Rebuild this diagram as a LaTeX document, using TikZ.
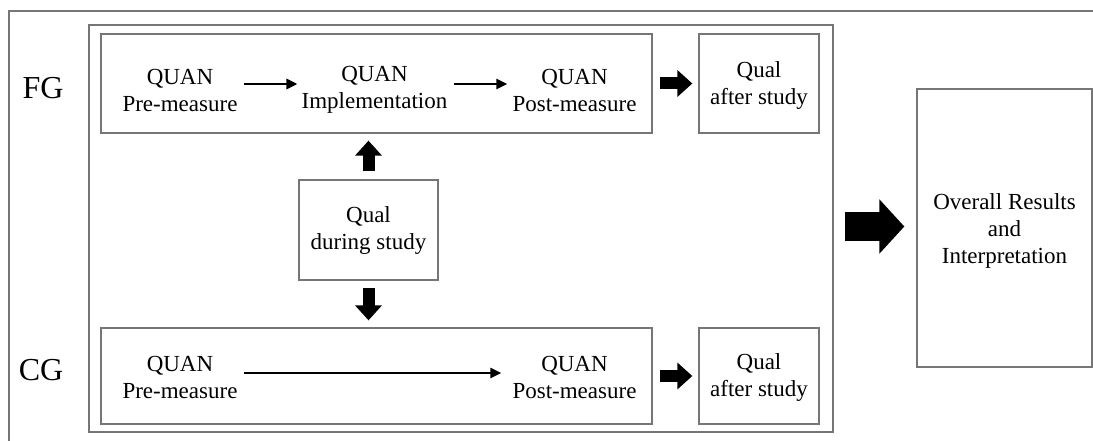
\documentclass[tikz,border=0pt]{standalone}
\usepackage{fontspec}
\setmainfont{Liberation Serif}
\usetikzlibrary{arrows.meta}
\definecolor{framegray}{RGB}{118,118,118}
\tikzset{
  frame/.style={draw=framegray, line width=1.3pt, rectangle, inner sep=0pt},
  txt/.style={align=center, inner sep=0pt, font=\fontsize{23}{27}\selectfont},
  lbl/.style={inner sep=0pt, font=\fontsize{32}{36}\selectfont},
  thinarrow/.style={line width=2.6pt, -{Triangle[length=11pt,width=10pt]}},
  blockarrow/.style={line width=12pt, -{Triangle[length=15pt,width=26pt]}},
  bigblock/.style={line width=29pt, -{Triangle[length=25pt,width=53pt]}}
}
\begin{document}
\begin{tikzpicture}[x=1pt,y=-1pt]
\useasboundingbox (0,0) rectangle (1093,441);
% outer frame (cropped at right and bottom)
\draw[draw=framegray, line width=1.3pt] (9,445) -- (9,11) -- (1097,11);
% boxes
\node[frame, minimum width=744pt, minimum height=407pt] (inner) at (461,228.5) {};
\node[frame, minimum width=551pt, minimum height=99pt] (fg) at (376.5,83.5) {};
\node[frame, minimum width=120pt, minimum height=99pt] (qa1) at (759,83.5) {};
\node[frame, minimum width=551pt, minimum height=96pt] (cg) at (376.5,376) {};
\node[frame, minimum width=120pt, minimum height=96pt] (qa2) at (759,376) {};
\node[frame, minimum width=139pt, minimum height=100pt] (qd) at (368.5,230) {};
\node[frame, minimum width=175pt, minimum height=278pt] (res) at (1004.5,228) {};
% texts
\node[lbl] (fgl) at (43,88) {FG};
\node[lbl] (cgl) at (41,370) {CG};
\node[txt] (pre1) at (180,90) {QUAN\\Pre-measure};
\node[txt] (impl) at (374.5,90) {QUAN\\Implementation};
\node[txt] (post1) at (574.5,90) {QUAN\\Post-measure};
\node[txt] (qa1t) at (759,86) {Qual\\after study};
\node[txt] (pre2) at (180,377) {QUAN\\Pre-measure};
\node[txt] (post2) at (574.5,377) {QUAN\\Post-measure};
\node[txt] (qa2t) at (759,378) {Qual\\after study};
\node[txt] (qdt) at (368.5,231) {Qual\\during study};
\node[txt] (rest) at (1004.5,231) {Overall Results\\and\\Interpretation};
% thin arrows
\draw[thinarrow] ([xshift=6pt,yshift=6pt]pre1.east) -- ([xshift=-4pt,yshift=6pt]impl.west);
\draw[thinarrow] ([xshift=6pt,yshift=6pt]impl.east) -- ([xshift=-5pt,yshift=6pt]post1.west);
\draw[thinarrow] ([xshift=6pt,yshift=4pt]pre2.east) -- ([xshift=-11pt,yshift=4pt]post2.west);
% block arrows
\draw[blockarrow, shorten <=7pt, shorten >=6pt] (fg.east) -- (qa1.west);
\draw[blockarrow, shorten <=7pt, shorten >=6pt] (cg.east) -- (qa2.west);
\draw[blockarrow, shorten <=8pt, shorten >=7pt] (qd.north) -- (qd.north |- fg.south);
\draw[blockarrow, shorten <=7pt, shorten >=7pt] (qd.south) -- (qd.south |- cg.north);
\draw[bigblock, shorten <=11pt, shorten >=12pt] ([yshift=2pt]inner.east) -- ([yshift=2pt]inner.east -| res.west);
\end{tikzpicture}
\end{document}
